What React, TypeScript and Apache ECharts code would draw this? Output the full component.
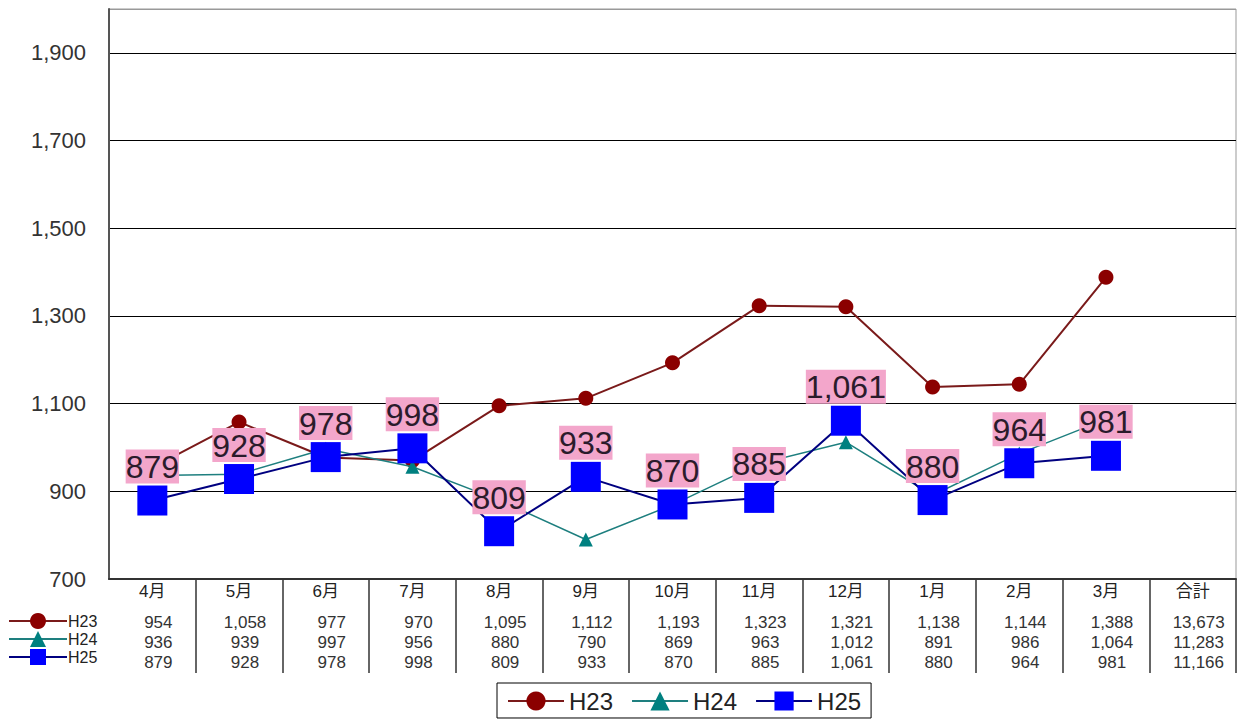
import React, { useEffect, useRef } from "react";
import * as echarts from "echarts";

const categories = ["4月", "5月", "6月", "7月", "8月", "9月", "10月", "11月", "12月", "1月", "2月", "3月", "合計"];
const seriesNames = ["H23", "H24", "H25"];
const h23 = [954, 1058, 977, 970, 1095, 1112, 1193, 1323, 1321, 1138, 1144, 1388];
const h24 = [936, 939, 997, 956, 880, 790, 869, 963, 1012, 891, 986, 1064];
const h25 = [879, 928, 978, 998, 809, 933, 870, 885, 1061, 880, 964, 981];
const totals = [13673, 11283, 11166];
const yMin = 700;
const yMax = 2000;
const yInterval = 200;

const FONT = "'Liberation Sans', 'Noto Sans CJK JP', sans-serif";
const fmt = (v: number) => v.toLocaleString("en-US");

export default function App() {
  const ref = useRef<HTMLDivElement>(null);
  useEffect(() => {
    if (!ref.current) return;
    const chart = echarts.init(ref.current, null, { renderer: "svg" });
    const rows = [h23, h24, h25];
    chart.setOption({
      animation: false,
      backgroundColor: "#fff",
      textStyle: { fontFamily: FONT },
      grid: {
        left: 109,
        top: 9,
        right: 1,
        bottom: 143,
        containLabel: false,
        show: true,
        borderColor: "#999",
        borderWidth: 1,
      },
      legend: [
        {
          data: seriesNames,
          orient: "vertical",
          left: 8,
          top: 612,
          padding: 0,
          itemWidth: 58,
          itemHeight: 20,
          itemGap: 0,
          selectedMode: false,
          textStyle: { fontSize: 16, lineHeight: 18, color: "#222", fontFamily: FONT, padding: [0, 0, 0, -4] },
        },
        {
          data: seriesNames,
          orient: "horizontal",
          left: 497,
          top: 683,
          padding: [6, 10, 5, 10],
          itemWidth: 56,
          itemHeight: 24,
          itemGap: 18,
          borderColor: "#000",
          borderWidth: 1,
          selectedMode: false,
          textStyle: { fontSize: 24, color: "#222", fontFamily: FONT },
        },
      ],
      xAxis: {
        type: "category",
        data: categories,
        boundaryGap: true,
        axisLine: { lineStyle: { color: "#333", width: 2 } },
        axisTick: {
          show: true,
          length: 94,
          interval: (i: number) => i > 0,
          lineStyle: { color: "#333", width: 1.5 },
        },
        splitLine: { show: false },
        axisLabel: {
          interval: 0,
          margin: 0,
          formatter: (value: string, idx: number) => {
            const vals = rows.map((r, k) => (idx < r.length ? fmt(r[idx]) : fmt(totals[k])));
            return `{m|${value}}\n{sp| }\n` + vals.map((v) => `{v|${v}}`).join("\n");
          },
          rich: {
            m: { fontSize: 17, lineHeight: 24, color: "#222", fontFamily: FONT },
            sp: { fontSize: 8, lineHeight: 9 },
            v: { fontSize: 17, lineHeight: 20, color: "#333", fontFamily: FONT, padding: [0, 0, 0, 12] },
          },
        },
      },
      yAxis: {
        type: "value",
        min: yMin,
        max: yMax,
        interval: yInterval,
        axisLine: { show: true, lineStyle: { color: "#555", width: 2 } },
        axisTick: { show: false },
        axisLabel: {
          showMaxLabel: false,
          margin: 23,
          fontSize: 22,
          color: "#333",
          fontFamily: FONT,
          formatter: (v: number) => fmt(v),
        },
        splitLine: {
          show: true,
          lineStyle: { color: ["#000", "#000", "#000", "#000", "#000", "#000", "#000", "#999"], width: 1 },
        },
      },
      series: [
        {
          name: "H23",
          type: "line",
          data: h23,
          symbol: "circle",
          symbolSize: 15,
          itemStyle: { color: "#8B0000" },
          lineStyle: { color: "#7A1A1A", width: 2 },
          z: 2,
        },
        {
          name: "H24",
          type: "line",
          data: h24,
          symbol: "triangle",
          symbolSize: 14,
          itemStyle: { color: "#008080" },
          lineStyle: { color: "#1E7F7F", width: 1.5 },
          z: 3,
        },
        {
          name: "H25",
          type: "line",
          data: h25,
          symbol: "rect",
          symbolSize: 30,
          itemStyle: { color: "#0000FF" },
          lineStyle: { color: "#000080", width: 2 },
          z: 4,
          label: {
            show: true,
            position: "top",
            distance: 2,
            formatter: (p: any) => fmt(p.value),
            fontSize: 32,
            lineHeight: 33,
            color: "#2B1B2B",
            fontFamily: FONT,
            backgroundColor: "#F3A6CB",
            padding: [1, 0, 0, 0],
          },
        },
      ],
    });
    return () => chart.dispose();
  }, []);
  return <div ref={ref} style={{ position: "fixed", left: 0, top: 0, width: 1237, height: 722 }} />;
}
